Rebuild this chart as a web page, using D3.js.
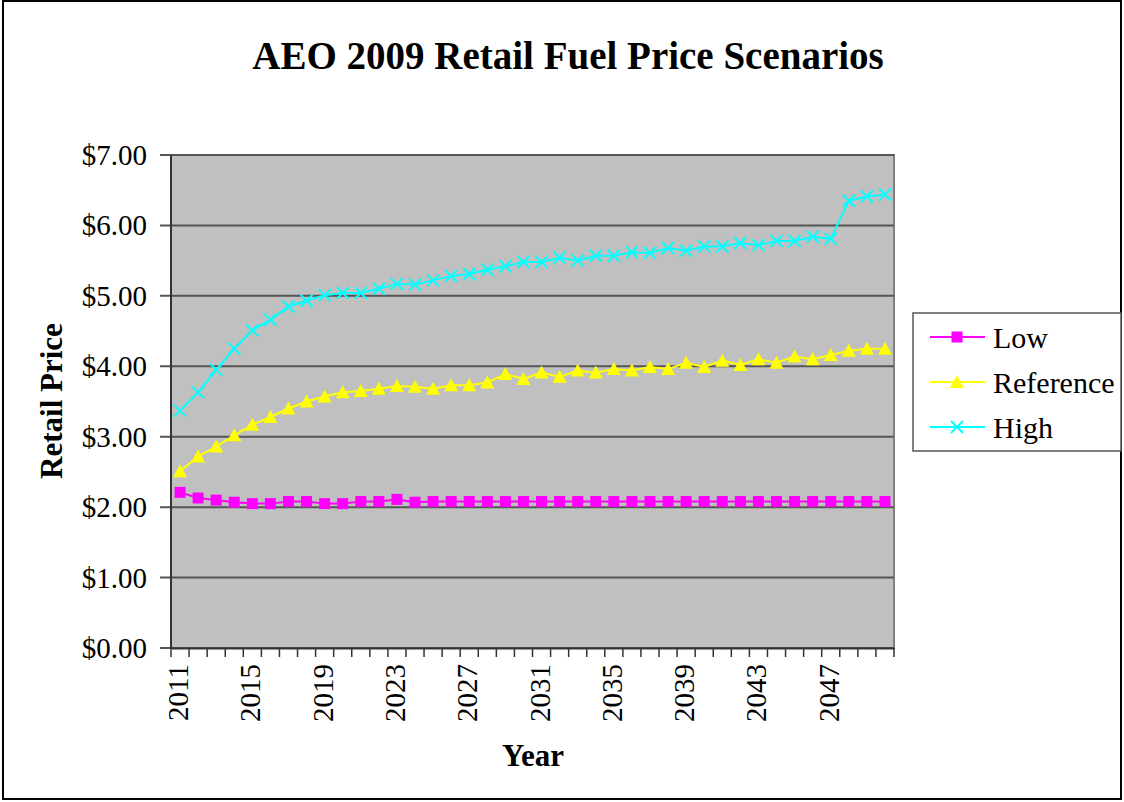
<!DOCTYPE html>
<html>
<head>
<meta charset="UTF-8">
<script src="https://d3js.org/d3.v7.min.js"></script>
<style>
  body { margin: 0; background: white; }
  text { font-family: "Liberation Serif", "Times New Roman", serif; }
</style>
</head>
<body>
<svg id="chart" width="1124" height="802"></svg>
<script>
// chart data
var years = d3.range(2011, 2051)
var yTicks = [0, 1, 2, 3, 4, 5, 6, 7]
var xTickLabels = [2011, 2015, 2019, 2023, 2027, 2031, 2035, 2039, 2043, 2047]

var low = [2.21, 2.13, 2.10, 2.07, 2.05, 2.05, 2.08, 2.08, 2.05, 2.05,
           2.08, 2.08, 2.11, 2.07, 2.08, 2.08, 2.08, 2.08, 2.08, 2.08,
           2.08, 2.08, 2.08, 2.08, 2.08, 2.08, 2.08, 2.08, 2.08, 2.08,
           2.08, 2.08, 2.08, 2.08, 2.08, 2.08, 2.08, 2.08, 2.08, 2.08]
var reference = [2.51, 2.72, 2.86, 3.02, 3.17, 3.28, 3.40, 3.50, 3.57, 3.63,
                 3.65, 3.68, 3.72, 3.71, 3.68, 3.73, 3.73, 3.77, 3.89, 3.82,
                 3.91, 3.85, 3.94, 3.91, 3.96, 3.94, 3.99, 3.96, 4.05, 3.99,
                 4.08, 4.02, 4.10, 4.05, 4.14, 4.10, 4.16, 4.22, 4.25, 4.25]
var high = [3.37, 3.63, 3.95, 4.25, 4.51, 4.66, 4.85, 4.93, 5.01, 5.04,
            5.04, 5.10, 5.17, 5.16, 5.22, 5.28, 5.31, 5.37, 5.42, 5.48,
            5.48, 5.54, 5.50, 5.57, 5.57, 5.62, 5.61, 5.68, 5.64, 5.70,
            5.70, 5.75, 5.72, 5.78, 5.78, 5.84, 5.81, 6.35, 6.41, 6.44]

var seriesNames = ["Low", "Reference", "High"]
var seriesValues = [low, reference, high]
var seriesColors = ["#FF00FF", "#FFFF00", "#00FFFF"]
var seriesMarkers = ["square", "triangle", "cross"]

var svg = d3.select("#chart")

// outer frame
svg.append("rect").attr("x", 3).attr("y", 1).attr("width", 1118).attr("height", 798)
   .attr("fill", "white").attr("stroke", "black").attr("stroke-width", 2)

var plot = { left: 171, right: 894, top: 155, bottom: 648 }

var x = d3.scaleBand().domain(years).range([plot.left, plot.right])
var y = d3.scaleLinear().domain([0, 7]).range([plot.bottom, plot.top])

// plot background
svg.append("rect").attr("x", plot.left).attr("y", plot.top)
   .attr("width", plot.right - plot.left).attr("height", plot.bottom - plot.top)
   .attr("fill", "#C0C0C0").attr("stroke", "#808080").attr("stroke-width", 2)

// gridlines (+ left ticks)
svg.append("g").selectAll("line").data(yTicks).enter().append("line")
   .attr("x1", plot.left - 11).attr("x2", plot.right)
   .attr("y1", function(d){ return y(d) }).attr("y2", function(d){ return y(d) })
   .attr("stroke", "#555").attr("stroke-width", 2)

// y axis labels
svg.append("g").selectAll("text").data(yTicks).enter().append("text")
   .attr("x", 147).attr("y", function(d){ return y(d) + 10 })
   .attr("text-anchor", "end").attr("font-size", 29)
   .text(function(d){ return "$" + d.toFixed(2) })

// y axis line
svg.append("line").attr("x1", plot.left).attr("x2", plot.left)
   .attr("y1", plot.top).attr("y2", plot.bottom).attr("stroke", "#333").attr("stroke-width", 2)

// x axis with ticks at every category boundary
var xAxis = d3.axisBottom(x).tickValues([]).tickSizeOuter(0)
var xg = svg.append("g").attr("transform", "translate(0," + plot.bottom + ")").call(xAxis)
xg.select(".domain").attr("stroke", "#333").attr("stroke-width", 2)
var boundaries = years.map(function(d){ return x(d) }).concat([plot.right])
xg.selectAll("line.b").data(boundaries).enter().append("line").attr("class", "b")
   .attr("x1", function(d){ return d }).attr("x2", function(d){ return d })
   .attr("y1", 0).attr("y2", 9).attr("stroke", "#333").attr("stroke-width", 1.5)

xg.selectAll("text.lbl").data(xTickLabels).enter().append("text").attr("class", "lbl")
   .attr("transform", function(d){
       return "translate(" + (x(d) + x.bandwidth() / 2 + 8) + ",16) rotate(-90)"
   })
   .attr("text-anchor", "end").attr("font-size", 29).attr("fill", "black")
   .text(function(d){ return d })

// axis titles
svg.append("text").attr("x", 533).attr("y", 766).attr("text-anchor", "middle")
   .attr("font-size", 31).attr("font-weight", "bold").text("Year")
svg.append("text").attr("transform", "translate(62,401) rotate(-90)")
   .attr("text-anchor", "middle").attr("font-size", 31).attr("font-weight", "bold")
   .text("Retail Price")

// title
svg.append("text").attr("x", 568).attr("y", 69).attr("text-anchor", "middle")
   .attr("font-size", 39).attr("font-weight", "bold")
   .text("AEO 2009 Retail Fuel Price Scenarios")

function drawMarker(g, type, color) {
    if (type == "square") {
        g.append("rect").attr("x", -5.5).attr("y", -5.5).attr("width", 11).attr("height", 11)
         .attr("fill", color)
    } else if (type == "triangle") {
        g.append("path").attr("d", "M0,-7 L7,6 L-7,6 Z").attr("fill", color)
    } else {
        g.append("path").attr("d", "M-6,-6 L6,6 M-6,6 L6,-6")
         .attr("stroke", color).attr("stroke-width", 2).attr("fill", "none")
    }
}

var line = d3.line()
    .x(function(d, i){ return x(years[i]) + x.bandwidth() / 2 })
    .y(function(d){ return y(d) })

seriesValues.forEach(function(vals, s) {
    svg.append("path").datum(vals).attr("d", line)
       .attr("fill", "none").attr("stroke", seriesColors[s]).attr("stroke-width", 2)
    svg.append("g").selectAll("g").data(vals).enter().append("g")
       .attr("transform", function(d, i){
           return "translate(" + (x(years[i]) + x.bandwidth() / 2) + "," + y(d) + ")"
       })
       .each(function(){ drawMarker(d3.select(this), seriesMarkers[s], seriesColors[s]) })
})

// legend
var legend = svg.append("g")
legend.append("rect").attr("x", 913).attr("y", 313).attr("width", 208).attr("height", 138)
      .attr("fill", "white").attr("stroke", "#555").attr("stroke-width", 1.5)
var items = legend.selectAll("g.item").data(seriesNames).enter().append("g").attr("class", "item")
    .attr("transform", function(d, i){ return "translate(0," + (337 + i * 45) + ")" })
items.append("line").attr("x1", 930).attr("x2", 985).attr("y1", 0).attr("y2", 0)
     .attr("stroke", function(d, i){ return seriesColors[i] }).attr("stroke-width", 2)
items.each(function(d, i){
    drawMarker(d3.select(this).append("g").attr("transform", "translate(957,0)"),
               seriesMarkers[i], seriesColors[i])
})
items.append("text").attr("x", 993).attr("y", 11).attr("font-size", 30).text(function(d){ return d })
</script>
</body>
</html>
